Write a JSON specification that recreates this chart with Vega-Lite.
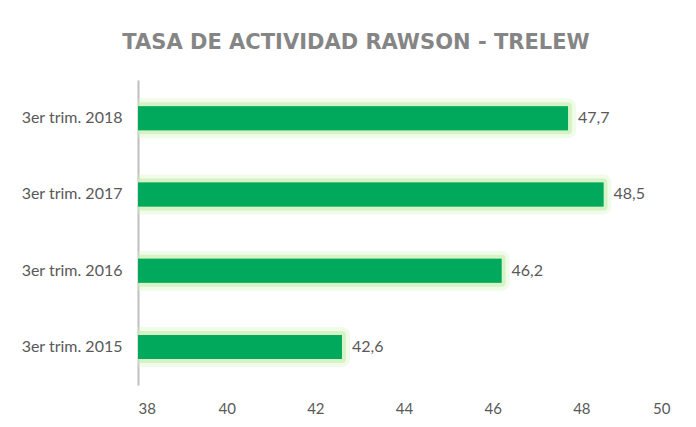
{
  "$schema": "https://vega.github.io/schema/vega-lite/v6.json",
  "width": 532,
  "height": 305,
  "autosize": {"type": "none"},
  "padding": {"left": 138, "top": 80, "right": 26, "bottom": 42},
  "background": "white",
  "config": {
    "view": {"stroke": null},
    "font": "Lato",
    "locale": {"number": {"decimal": ",", "thousands": ".", "grouping": [3], "currency": ["", ""]}}
  },
  "title": {
    "text": "TASA DE ACTIVIDAD RAWSON - TRELEW",
    "font": "DejaVu Sans",
    "fontSize": 21,
    "fontWeight": "bold",
    "color": "#858585",
    "anchor": "middle",
    "frame": "group",
    "dx": -48,
    "offset": 27
  },
  "data": {
    "values": [
      {"periodo": "3er trim. 2018", "tasa": 47.7},
      {"periodo": "3er trim. 2017", "tasa": 48.5},
      {"periodo": "3er trim. 2016", "tasa": 46.2},
      {"periodo": "3er trim. 2015", "tasa": 42.6}
    ]
  },
  "encoding": {
    "y": {
      "field": "periodo",
      "type": "nominal",
      "sort": null,
      "axis": {
        "title": null,
        "ticks": false,
        "domainColor": "#bfbfbf",
        "domainWidth": 2,
        "labelFont": "Lato",
        "labelFontSize": 16,
        "labelColor": "#595959",
        "labelPadding": 16
      }
    },
    "x": {
      "field": "tasa",
      "type": "quantitative",
      "scale": {"domain": [38, 50], "zero": false},
      "axis": {
        "title": null,
        "values": [38, 40, 42, 44, 46, 48, 50],
        "format": "d",
        "grid": false,
        "domain": false,
        "ticks": false,
        "labelFont": "Lato",
        "labelFontSize": 15,
        "labelColor": "#595959",
        "labelPadding": 16
      }
    }
  },
  "layer": [
    {
      "mark": {"type": "bar", "size": 24, "clip": true, "color": "#00a95c", "stroke": "#d4f3c2", "strokeWidth": 16, "strokeOpacity": 0.35, "strokeJoin": "round"}
    },
    {
      "mark": {"type": "bar", "size": 24, "clip": true, "color": "#00a95c", "stroke": "#c6efae", "strokeWidth": 8, "strokeOpacity": 0.6, "strokeJoin": "round"}
    },
    {
      "mark": {"type": "bar", "size": 24, "clip": true, "color": "#00a95c"}
    },
    {
      "mark": {"type": "text", "align": "left", "dx": 10, "font": "Lato", "fontSize": 16, "color": "#595959"},
      "encoding": {
        "text": {"field": "tasa", "type": "quantitative", "format": ".1f"}
      }
    }
  ]
}
